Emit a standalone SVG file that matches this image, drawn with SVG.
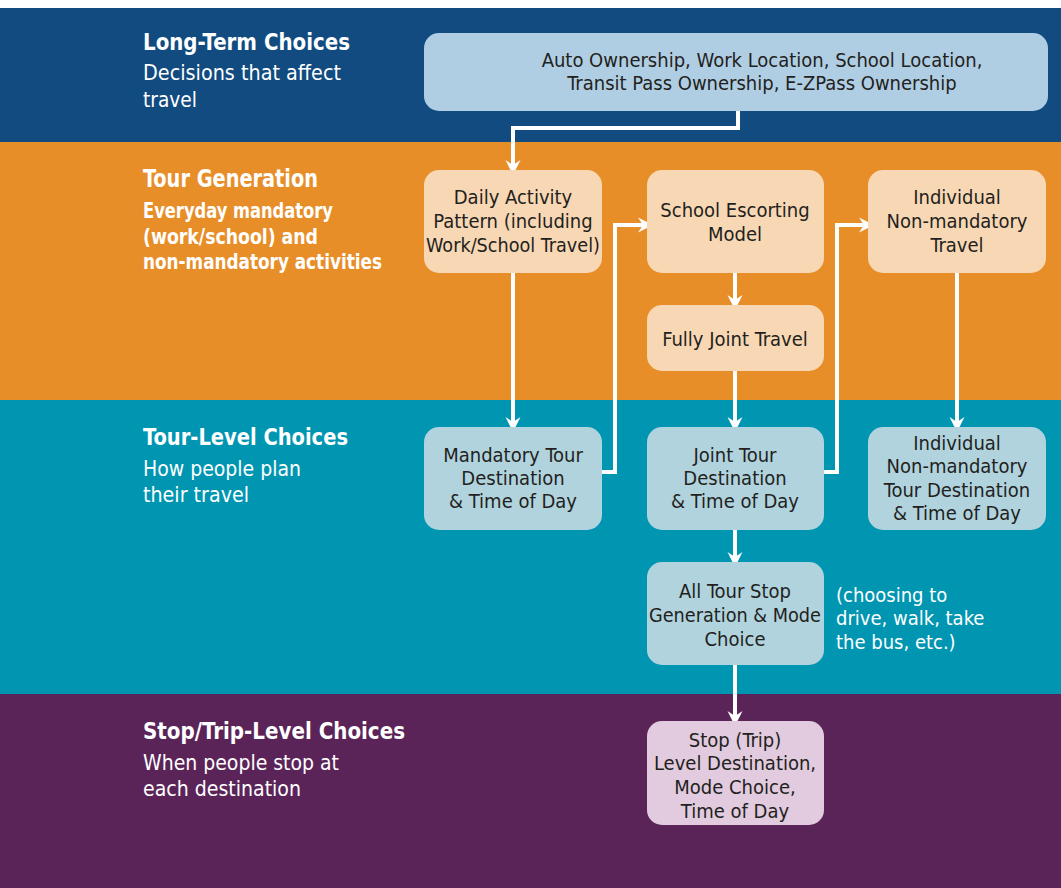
<svg xmlns="http://www.w3.org/2000/svg" width="1061" height="888" viewBox="0 0 1061 888">
  <defs>
    <marker id="arrow" viewBox="-15 -8 16 16" markerWidth="16" markerHeight="16" refX="0" refY="0" orient="auto" markerUnits="userSpaceOnUse">
      <path d="M0,0 L-15,-7.5 L-10,0 L-15,7.5 Z" fill="#ffffff"/>
    </marker>
    <style>
      .band-title { font-family: "DejaVu Sans Condensed", "DejaVu Sans", sans-serif; font-weight: bold; font-size: 22.5px; fill: #ffffff; }
      .band-sub { font-family: "DejaVu Sans Condensed", "DejaVu Sans", sans-serif; font-size: 21.5px; fill: #ffffff; }
      .band-sub-bold { font-family: "DejaVu Sans Condensed", "DejaVu Sans", sans-serif; font-weight: bold; font-size: 22px; fill: #ffffff; }
      .node-text { font-family: "DejaVu Sans Condensed", "DejaVu Sans", sans-serif; font-size: 20px; fill: #231f20; text-anchor: middle; }
      .note { font-family: "DejaVu Sans Condensed", "DejaVu Sans", sans-serif; font-size: 20px; fill: #ffffff; }
      .box-blue { fill: #b0cee3; }
      .box-peach { fill: #f8d7b4; }
      .box-teal { fill: #b0d3de; }
      .box-pink { fill: #e2cbde; }
      .conn { fill: none; stroke: #ffffff; stroke-width: 4; }
    </style>
  </defs>

  <!-- background bands -->
  <rect x="0" y="0" width="1061" height="888" fill="#ffffff"/>
  <rect x="0" y="8" width="1061" height="134" fill="#114b80"/>
  <rect x="0" y="142" width="1061" height="258" fill="#e88e28"/>
  <rect x="0" y="400" width="1061" height="294" fill="#0096b2"/>
  <rect x="0" y="694" width="1061" height="194" fill="#5b2459"/>

  <!-- band labels -->
  <g id="label-long-term">
    <text class="band-title" x="143" y="50" textLength="207" lengthAdjust="spacingAndGlyphs">Long-Term Choices</text>
    <text class="band-sub" x="143" y="80" textLength="198" lengthAdjust="spacingAndGlyphs">Decisions that affect</text>
    <text class="band-sub" x="143" y="107" textLength="54" lengthAdjust="spacingAndGlyphs">travel</text>
  </g>
  <g id="label-tour-generation">
    <text class="band-title" x="143" y="187" style="font-size:24.5px" textLength="175" lengthAdjust="spacingAndGlyphs">Tour Generation</text>
    <text class="band-sub-bold" x="143" y="218" textLength="190" lengthAdjust="spacingAndGlyphs">Everyday mandatory</text>
    <text class="band-sub-bold" x="143" y="244" textLength="175" lengthAdjust="spacingAndGlyphs">(work/school) and</text>
    <text class="band-sub-bold" x="143" y="269" textLength="239" lengthAdjust="spacingAndGlyphs">non-mandatory activities</text>
  </g>
  <g id="label-tour-level">
    <text class="band-title" x="143" y="445" textLength="205" lengthAdjust="spacingAndGlyphs">Tour-Level Choices</text>
    <text class="band-sub" x="143" y="476" textLength="158" lengthAdjust="spacingAndGlyphs">How people plan</text>
    <text class="band-sub" x="143" y="502" textLength="106" lengthAdjust="spacingAndGlyphs">their travel</text>
  </g>
  <g id="label-stop-trip">
    <text class="band-title" x="143" y="739" textLength="262" lengthAdjust="spacingAndGlyphs">Stop/Trip-Level Choices</text>
    <text class="band-sub" x="143" y="770" textLength="196" lengthAdjust="spacingAndGlyphs">When people stop at</text>
    <text class="band-sub" x="143" y="796" textLength="158" lengthAdjust="spacingAndGlyphs">each destination</text>
  </g>

  <!-- connectors -->
  <g id="connectors">
    <path class="conn" d="M738,111 V128 H513 V175" marker-end="url(#arrow)"/>
    <path class="conn" d="M513,273 V432" marker-end="url(#arrow)"/>
    <path class="conn" d="M602,472 H615 V225 H653" marker-end="url(#arrow)"/>
    <path class="conn" d="M735,273 V310" marker-end="url(#arrow)"/>
    <path class="conn" d="M735,371 V432" marker-end="url(#arrow)"/>
    <path class="conn" d="M824,472 H837 V225 H874" marker-end="url(#arrow)"/>
    <path class="conn" d="M957,273 V432" marker-end="url(#arrow)"/>
    <path class="conn" d="M735,530 V567" marker-end="url(#arrow)"/>
    <path class="conn" d="M735,665 V726" marker-end="url(#arrow)"/>
  </g>

  <!-- nodes -->
  <g id="node-long-term">
    <rect class="box-blue" x="424" y="33" width="624" height="78" rx="15"/>
    <text class="node-text" x="762" y="67">Auto Ownership, Work Location, School Location,</text>
    <text class="node-text" x="762" y="90">Transit Pass Ownership, E-ZPass Ownership</text>
  </g>
  <g id="node-daily-activity">
    <rect class="box-peach" x="424" y="170" width="178" height="103" rx="15"/>
    <text class="node-text" x="513" y="204">Daily Activity</text>
    <text class="node-text" x="513" y="228">Pattern (including</text>
    <text class="node-text" x="513" y="252" textLength="174" lengthAdjust="spacingAndGlyphs">Work/School Travel)</text>
  </g>
  <g id="node-school-escorting">
    <rect class="box-peach" x="647" y="170" width="177" height="103" rx="15"/>
    <text class="node-text" x="735" y="217">School Escorting</text>
    <text class="node-text" x="735" y="241">Model</text>
  </g>
  <g id="node-individual-travel">
    <rect class="box-peach" x="868" y="170" width="178" height="103" rx="15"/>
    <text class="node-text" x="957" y="204">Individual</text>
    <text class="node-text" x="957" y="228">Non-mandatory</text>
    <text class="node-text" x="957" y="252">Travel</text>
  </g>
  <g id="node-fully-joint">
    <rect class="box-peach" x="647" y="305" width="177" height="66" rx="15"/>
    <text class="node-text" x="735" y="346">Fully Joint Travel</text>
  </g>
  <g id="node-mandatory-tour">
    <rect class="box-teal" x="424" y="427" width="178" height="103" rx="15"/>
    <text class="node-text" x="513" y="462">Mandatory Tour</text>
    <text class="node-text" x="513" y="485">Destination</text>
    <text class="node-text" x="513" y="508">&amp; Time of Day</text>
  </g>
  <g id="node-joint-tour">
    <rect class="box-teal" x="647" y="427" width="177" height="103" rx="15"/>
    <text class="node-text" x="735" y="462">Joint Tour</text>
    <text class="node-text" x="735" y="485">Destination</text>
    <text class="node-text" x="735" y="508">&amp; Time of Day</text>
  </g>
  <g id="node-individual-tour">
    <rect class="box-teal" x="868" y="427" width="178" height="103" rx="15"/>
    <text class="node-text" x="957" y="450">Individual</text>
    <text class="node-text" x="957" y="473">Non-mandatory</text>
    <text class="node-text" x="957" y="497">Tour Destination</text>
    <text class="node-text" x="957" y="520">&amp; Time of Day</text>
  </g>
  <g id="node-stop-generation">
    <rect class="box-teal" x="647" y="562" width="177" height="103" rx="15"/>
    <text class="node-text" x="735" y="598">All Tour Stop</text>
    <text class="node-text" x="735" y="622" textLength="172" lengthAdjust="spacingAndGlyphs">Generation &amp; Mode</text>
    <text class="node-text" x="735" y="646">Choice</text>
  </g>
  <g id="note-mode">
    <text class="note" x="836" y="602">(choosing to</text>
    <text class="note" x="836" y="625">drive, walk, take</text>
    <text class="note" x="836" y="649">the bus, etc.)</text>
  </g>
  <g id="node-stop-trip">
    <rect class="box-pink" x="647" y="721" width="177" height="104" rx="15"/>
    <text class="node-text" x="735" y="747">Stop (Trip)</text>
    <text class="node-text" x="735" y="770">Level Destination,</text>
    <text class="node-text" x="735" y="794">Mode Choice,</text>
    <text class="node-text" x="735" y="818">Time of Day</text>
  </g>
</svg>
